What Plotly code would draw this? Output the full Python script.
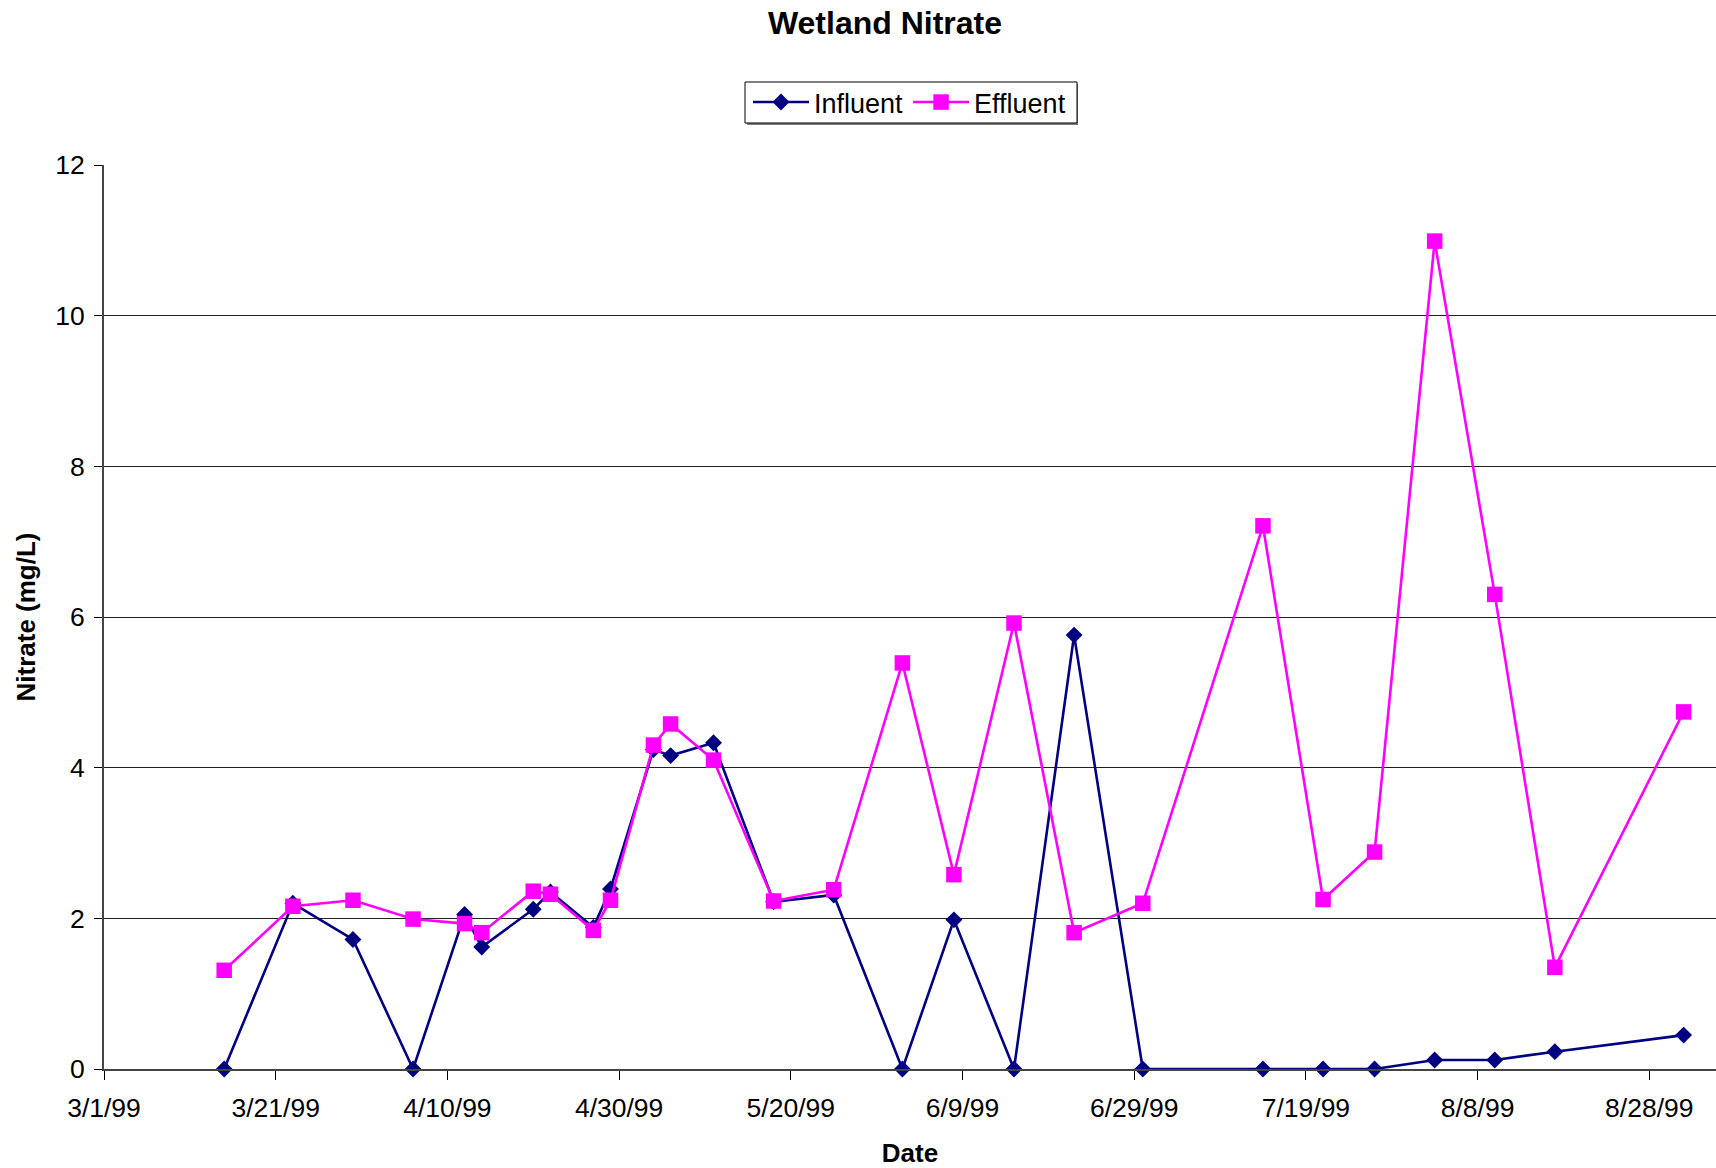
import plotly.graph_objects as go

# Sampling dates for the wetland nitrate survey (1999)
sample_dates = [
    "1999-03-15", "1999-03-23", "1999-03-30", "1999-04-06", "1999-04-12",
    "1999-04-14", "1999-04-20", "1999-04-22", "1999-04-27", "1999-04-29",
    "1999-05-04", "1999-05-06", "1999-05-11", "1999-05-18", "1999-05-25",
    "1999-06-02", "1999-06-08", "1999-06-15", "1999-06-22", "1999-06-30",
    "1999-07-14", "1999-07-21", "1999-07-27", "1999-08-03", "1999-08-10",
    "1999-08-17", "1999-09-01",
]

# Nitrate concentrations (mg/L)
influent = [
    0.00, 2.20, 1.72, 0.00, 2.05, 1.62, 2.12, 2.35, 1.88, 2.39,
    4.24, 4.16, 4.33, 2.22, 2.31, 0.00, 1.98, 0.00, 5.76, 0.00,
    0.00, 0.00, 0.00, 0.12, 0.12, 0.23, 0.45,
]
effluent = [
    1.31, 2.16, 2.24, 1.99, 1.93, 1.81, 2.36, 2.32, 1.84, 2.24,
    4.30, 4.58, 4.10, 2.23, 2.38, 5.39, 2.58, 5.92, 1.81, 2.20,
    7.21, 2.25, 2.88, 10.99, 6.30, 1.35, 4.74,
]

# Axis ticks
x_tick_dates = [
    "1999-03-01", "1999-03-21", "1999-04-10", "1999-04-30", "1999-05-20",
    "1999-06-09", "1999-06-29", "1999-07-19", "1999-08-08", "1999-08-28",
]
x_tick_labels = [
    "3/1/99", "3/21/99", "4/10/99", "4/30/99", "5/20/99",
    "6/9/99", "6/29/99", "7/19/99", "8/8/99", "8/28/99",
]
y_ticks = [0, 2, 4, 6, 8, 10, 12]

FONT = "Arial, 'Liberation Sans', sans-serif"
TICK_SIZE = 26.5

# Figure / plot-area geometry (pixels)
W, H = 1716, 1168
M_L, M_R, M_T, M_B = 104, 0, 165, 99
PLOT_W = W - M_L - M_R
PLOT_H = H - M_T - M_B


def px_x(px):
    """Pixel column -> paper x."""
    return (px - M_L) / PLOT_W


def px_y(py):
    """Pixel row -> paper y."""
    return (H - M_B - py) / PLOT_H


# Legend frame with a drop shadow along the bottom edge
LEG_L, LEG_R, LEG_T, LEG_B = 745, 1077, 82, 123
SHADOW = 2

fig = go.Figure()
fig.add_trace(go.Scatter(
    x=sample_dates, y=influent, name="Influent",
    mode="lines+markers",
    line=dict(color="#000080", width=2.6),
    marker=dict(symbol="diamond", size=13, color="#000080"),
    cliponaxis=False,
))
fig.add_trace(go.Scatter(
    x=sample_dates, y=effluent, name="Effluent",
    mode="lines+markers",
    line=dict(color="#FF00FF", width=2.6),
    marker=dict(symbol="square", size=15.5, color="#FF00FF"),
    cliponaxis=False,
))

fig.add_shape(
    type="rect", xref="paper", yref="paper", layer="above",
    x0=px_x(LEG_L + SHADOW), x1=px_x(LEG_R + 1),
    y0=px_y(LEG_B + SHADOW), y1=px_y(LEG_T + SHADOW),
    fillcolor="#808080", line=dict(width=0),
)
fig.add_shape(
    type="rect", xref="paper", yref="paper", layer="above",
    x0=px_x(LEG_L), x1=px_x(LEG_R),
    y0=px_y(LEG_B), y1=px_y(LEG_T),
    fillcolor="white", line=dict(color="black", width=1),
)

fig.update_layout(
    width=W, height=H,
    margin=dict(l=M_L, r=M_R, t=M_T, b=M_B),
    paper_bgcolor="white", plot_bgcolor="white",
    font=dict(family=FONT, size=TICK_SIZE, color="black"),
    title=dict(
        text="<b>Wetland Nitrate</b>",
        font=dict(family=FONT, size=32, color="black"),
        x=885 / W, xanchor="center",
        y=1 - 23 / H, yanchor="middle",
    ),
    showlegend=True,
    legend=dict(
        orientation="h",
        x=px_x(LEG_L + 3), xanchor="left",
        y=px_y((LEG_T + LEG_B) / 2), yanchor="middle",
        bgcolor="rgba(0,0,0,0)", borderwidth=0,
        font=dict(family=FONT, size=27, color="black"),
        itemwidth=56,
        itemsizing="trace",
    ),
    xaxis=dict(
        type="date",
        range=["1999-03-01", "1999-09-04 18:30"],
        tickmode="array", tickvals=x_tick_dates, ticktext=x_tick_labels,
        ticks="outside", ticklen=9, tickwidth=1, tickcolor="black",
        ticklabelstandoff=5,
        showgrid=False, zeroline=False,
        showline=True, linecolor="#444", linewidth=2,
        tickfont=dict(family=FONT, size=TICK_SIZE, color="black"),
        title=dict(text="<b>Date</b>", font=dict(family=FONT, size=26, color="black"),
                   standoff=23),
    ),
    yaxis=dict(
        range=[0, 12],
        tickmode="array", tickvals=y_ticks,
        ticks="outside", ticklen=8, tickwidth=1, tickcolor="black",
        ticklabelstandoff=4,
        showgrid=True, gridcolor="#202020", gridwidth=1,
        zeroline=False,
        showline=True, linecolor="#444", linewidth=2,
        tickfont=dict(family=FONT, size=TICK_SIZE, color="black"),
        title=dict(text="<b>Nitrate (mg/L)</b>", font=dict(family=FONT, size=26, color="black"),
                   standoff=12),
    ),
)

fig.write_html("out.html")
